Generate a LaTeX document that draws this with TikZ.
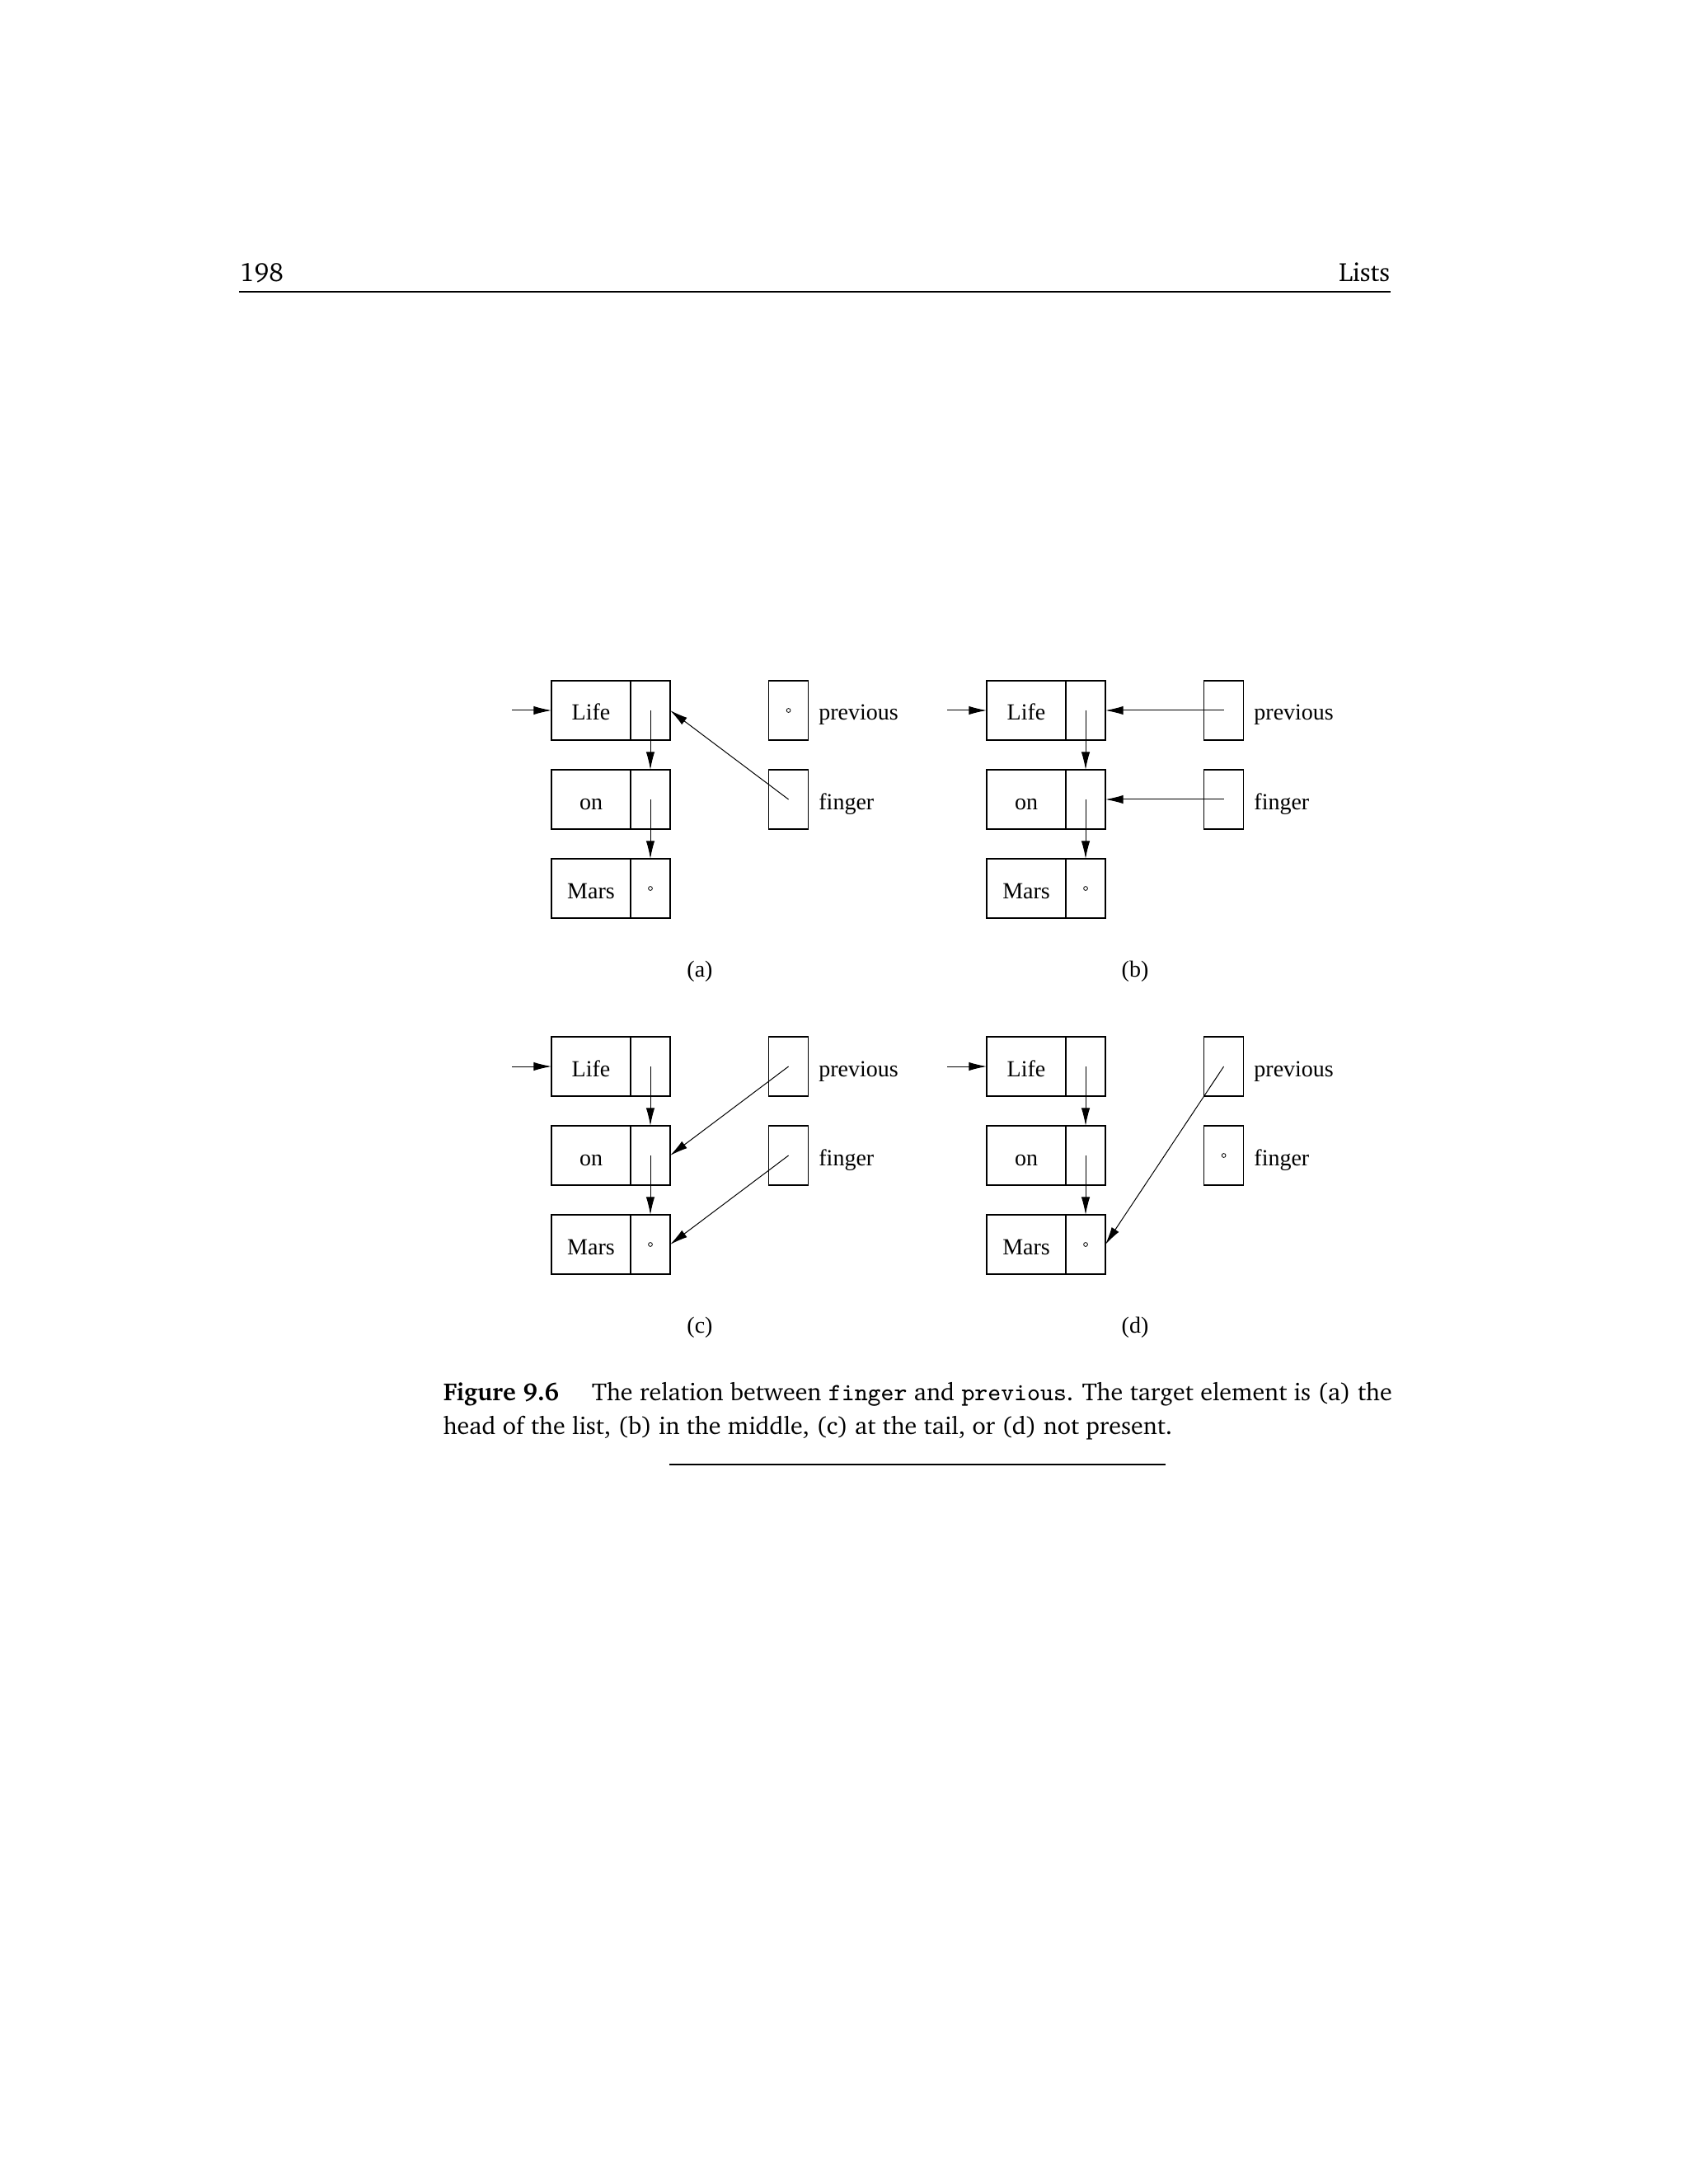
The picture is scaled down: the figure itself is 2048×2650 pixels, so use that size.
\documentclass[tikz,border=0pt]{standalone}
\usepackage[T1]{fontenc}
\usepackage{fontspec}
\usetikzlibrary{arrows.meta,positioning}
\newfontfamily\figfont{Liberation Serif}
\newfontfamily\codefont{Latin Modern Mono}
\newcommand{\capfont}{\fontencoding{T1}\fontfamily{bch}\fontsize{7.5}{9}\selectfont}
\newcommand{\headfont}{\fontencoding{T1}\fontfamily{bch}\fontsize{8}{10}\selectfont}

\begin{document}
\begin{tikzpicture}[
    x=0.25pt, y=-0.25pt,
    cell/.style={rectangle, draw, line width=0.3pt, outer sep=0pt, inner sep=0pt, minimum width=12pt, minimum height=18pt, font=\figfont\fontsize{7}{8}\selectfont, text height=6pt, text depth=0pt},
    val/.style={cell, minimum width=24pt},
    lbl/.style={inner sep=0pt, font=\figfont\fontsize{7}{8}\selectfont, text height=6pt, text depth=0pt},
    nil/.style={circle, draw, line width=0.2pt, inner sep=0pt, minimum size=1.2pt},
    link/.style={-{Latex[length=5.4pt,width=2.6pt]}, line width=0.25pt}
]
\useasboundingbox (0,0) rectangle (2048,2650);
% running head
\node[anchor=base west, inner sep=0pt, font=\headfont] (pgno) at (290,342) {198};
\node[anchor=base east, inner sep=0pt, font=\headfont] (runhead) at (1687,342) {Lists};
\draw[line width=0.33pt] (290,354) -- (1687,354);
% the four panels
\foreach \p/\x/\y in {a/669/826, b/1197/826, c/669/1258, d/1197/1258} {
  \node[val, anchor=north west] (\p-life) at (\x,\y) {Life};
  \node[cell, right=0pt of \p-life] (\p-lifep) {};
  \node[val, below=9pt of \p-life] (\p-on) {on};
  \node[cell, right=0pt of \p-on] (\p-onp) {};
  \node[val, below=9pt of \p-on] (\p-mars) {Mars};
  \node[cell, right=0pt of \p-mars] (\p-marsp) {};
  \node[nil] (\p-end) at (\p-marsp) {};
  \node[cell, right=29.9pt of \p-lifep] (\p-prev) {};
  \node[cell, below=9pt of \p-prev] (\p-fing) {};
  \node[lbl, right=3pt of \p-prev] (\p-prevlbl) {previous};
  \node[lbl, right=3pt of \p-fing] (\p-finglbl) {finger};
  \node[lbl] (\p-tag) at (\x+180,\y+347) {(\p)};
  \coordinate[left=12pt of \p-life] (\p-head);
  \draw[link] (\p-head) -- (\p-life);
  \draw[link] (\p-lifep.center) -- (\p-onp.north);
  \draw[link] (\p-onp.center) -- (\p-marsp.north);
}
% (a) target at the head
\node[nil] (a-prevnil) at (a-prev) {};
\draw[link] (a-fing.center) -- (a-lifep.east);
% (b) target in the middle
\draw[link] (b-prev.center) -- (b-lifep.east);
\draw[link] (b-fing.center) -- (b-onp.east);
% (c) target at the tail
\draw[link] (c-prev.center) -- (c-onp.east);
\draw[link] (c-fing.center) -- (c-marsp.east);
% (d) target not present
\node[nil] (d-fingnil) at (d-fing) {};
\draw[link] (d-prev.center) -- (d-marsp.east);
% caption
\node[anchor=base west, inner sep=0pt, font=\capfont] (cap1) at (537,1699)
  {\makebox[287.75pt][s]{\textbf{Figure 9.6}\hspace{10pt}The relation between {\codefont finger} and {\codefont previous}. The target element is (a) the}};
\node[anchor=base west, inner sep=0pt, font=\capfont] (cap2) at (537,1740)
  {head of the list, (b) in the middle, (c) at the tail, or (d) not present.};
\draw[line width=0.33pt] (812,1777) -- (1414,1777);
\end{tikzpicture}
\end{document}
